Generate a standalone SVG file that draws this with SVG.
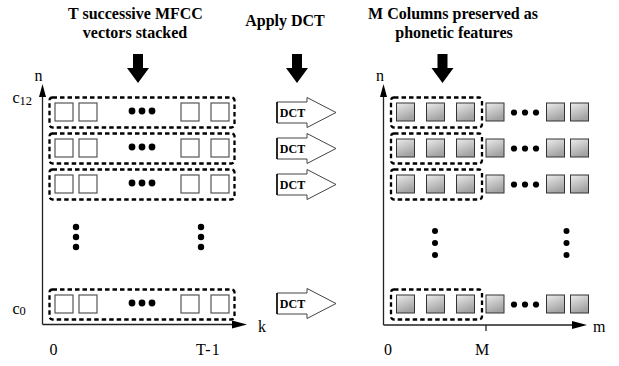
<svg xmlns="http://www.w3.org/2000/svg" width="619" height="366" viewBox="0 0 619 366">
<defs>
<linearGradient id="g" x1="0" y1="0" x2="0.4" y2="1">
<stop offset="0" stop-color="#ececec"/>
<stop offset="1" stop-color="#a2a2a2"/>
</linearGradient>
<style>
.t{font-family:"Liberation Serif","Times New Roman",serif;font-weight:bold;font-size:16px;fill:#000;text-anchor:middle}
.l{font-family:"Liberation Serif","Times New Roman",serif;font-size:16px;fill:#000}
.d{font-family:"Liberation Serif","Times New Roman",serif;font-weight:bold;font-size:12px;fill:#000;text-anchor:middle}
.box{fill:none;stroke:#000;stroke-width:2.3;stroke-dasharray:4.5 3}
.ws{fill:#fff;stroke:#555;stroke-width:1.2}
.gs{fill:url(#g);stroke:#333;stroke-width:1}
.dct{fill:#fff;stroke:#444;stroke-width:1}
.ax{stroke:#222;stroke-width:1.3;fill:none}
</style>
</defs>

<g id="titles">
<text class="t" x="135.5" y="19">T successive MFCC</text>
<text class="t" x="135" y="37.5">vectors stacked</text>
<text class="t" x="285" y="26">Apply DCT</text>
<text class="t" x="453" y="19">M Columns preserved as</text>
<text class="t" x="454" y="37.5">phonetic features</text>
</g>

<g id="connectors">
<polygon points="133,54 143,54 143,68 149,68 138,83 127,68 133,68" fill="#000"/>
<polygon points="292,54 302,54 302,68 308,68 297,83 286,68 292,68" fill="#000"/>
<polygon points="437.5,54 447.5,54 447.5,68 453.5,68 442.5,83 431.5,68 437.5,68" fill="#000"/>
</g>

<g id="axes-left">
<line class="ax" x1="42.5" y1="95" x2="42.5" y2="324.5"/>
<polygon points="42.5,84 46,97 39,97" fill="#000"/>
<line class="ax" x1="42.5" y1="324.5" x2="235" y2="324.5"/>
<polygon points="247,324.5 232,320.5 232,328.5" fill="#000"/>
<text class="l" x="34.5" y="81">n</text>
<text class="l" x="258" y="332">k</text>
<text class="l" x="12.5" y="103" font-size="18">c<tspan font-size="12.5" dy="2">12</tspan></text>
<text class="l" x="12.5" y="314" font-size="18">c<tspan font-size="12.5" dy="1">0</tspan></text>
<text class="l" x="49.5" y="355">0</text>
<text class="l" x="196" y="355" letter-spacing="1">T-1</text>
</g>

<g id="axes-right">
<line class="ax" x1="383.5" y1="95" x2="383.5" y2="325"/>
<polygon points="383.5,84 387,97 380,97" fill="#000"/>
<line class="ax" x1="383.5" y1="325" x2="575" y2="325"/>
<polygon points="587,325 572,321 572,329" fill="#000"/>
<line class="ax" x1="486" y1="325" x2="486" y2="331"/>
<text class="l" x="376" y="81">n</text>
<text class="l" x="593" y="332">m</text>
<text class="l" x="384" y="355">0</text>
<text class="l" x="475" y="355">M</text>
</g>

<g id="left-row-1">
<rect class="box" x="49.5" y="97.5" width="185" height="30" rx="3"/>
<rect class="ws" x="55" y="103" width="18" height="18"/>
<rect class="ws" x="79" y="103" width="18" height="18"/>
<circle cx="132" cy="111" r="3.4"/><circle cx="142" cy="111" r="3.4"/><circle cx="152" cy="111" r="3.4"/>
<rect class="ws" x="181" y="103" width="18" height="18"/>
<rect class="ws" x="211" y="103" width="18" height="18"/>
</g>
<g id="left-row-2">
<rect class="box" x="49.5" y="133.5" width="185" height="30" rx="3"/>
<rect class="ws" x="55" y="139" width="18" height="18"/>
<rect class="ws" x="79" y="139" width="18" height="18"/>
<circle cx="132" cy="147" r="3.4"/><circle cx="142" cy="147" r="3.4"/><circle cx="152" cy="147" r="3.4"/>
<rect class="ws" x="181" y="139" width="18" height="18"/>
<rect class="ws" x="211" y="139" width="18" height="18"/>
</g>
<g id="left-row-3">
<rect class="box" x="49.5" y="169.5" width="185" height="30" rx="3"/>
<rect class="ws" x="55" y="175" width="18" height="18"/>
<rect class="ws" x="79" y="175" width="18" height="18"/>
<circle cx="132" cy="183" r="3.4"/><circle cx="142" cy="183" r="3.4"/><circle cx="152" cy="183" r="3.4"/>
<rect class="ws" x="181" y="175" width="18" height="18"/>
<rect class="ws" x="211" y="175" width="18" height="18"/>
</g>
<g id="left-vdots">
<circle cx="76" cy="227" r="3.2"/><circle cx="76" cy="237" r="3.2"/><circle cx="76" cy="247" r="3.2"/>
<circle cx="201" cy="227" r="3.2"/><circle cx="201" cy="237" r="3.2"/><circle cx="201" cy="247" r="3.2"/>
</g>
<g id="left-row-4">
<rect class="box" x="49.5" y="289.5" width="185" height="30" rx="3"/>
<rect class="ws" x="55" y="295" width="18" height="18"/>
<rect class="ws" x="79" y="295" width="18" height="18"/>
<circle cx="132" cy="303" r="3.4"/><circle cx="142" cy="303" r="3.4"/><circle cx="152" cy="303" r="3.4"/>
<rect class="ws" x="181" y="295" width="18" height="18"/>
<rect class="ws" x="211" y="295" width="18" height="18"/>
</g>

<g id="dct-1">
<polygon class="dct" points="277,102 307,102 307,97.5 336,112.5 307,127.5 307,123 277,123"/>
<line x1="277" y1="102" x2="277" y2="123" stroke="#000" stroke-width="1.5"/>
<text class="d" x="292.5" y="116.5">DCT</text>
</g>
<g id="dct-2">
<polygon class="dct" points="277,138 307,138 307,133.5 336,148.5 307,163.5 307,159 277,159"/>
<line x1="277" y1="138" x2="277" y2="159" stroke="#000" stroke-width="1.5"/>
<text class="d" x="292.5" y="152.5">DCT</text>
</g>
<g id="dct-3">
<polygon class="dct" points="277,174 307,174 307,169.5 336,184.5 307,199.5 307,195 277,195"/>
<line x1="277" y1="174" x2="277" y2="195" stroke="#000" stroke-width="1.5"/>
<text class="d" x="292.5" y="188.5">DCT</text>
</g>
<g id="dct-4">
<polygon class="dct" points="277,293 307,293 307,288.5 336,303.5 307,318.5 307,314 277,314"/>
<line x1="277" y1="293" x2="277" y2="314" stroke="#000" stroke-width="1.5"/>
<text class="d" x="292.5" y="307.5">DCT</text>
</g>

<g id="right-row-1">
<rect class="box" x="391" y="97.5" width="91" height="30" rx="3"/>
<rect class="gs" x="396.5" y="103" width="18" height="18"/>
<rect class="gs" x="426.5" y="103" width="18" height="18"/>
<rect class="gs" x="456.5" y="103" width="18" height="18"/>
<rect class="gs" x="486" y="103" width="18" height="18"/>
<circle cx="514" cy="112.5" r="3.1"/><circle cx="525" cy="112.5" r="3.1"/><circle cx="536" cy="112.5" r="3.1"/>
<rect class="gs" x="546.5" y="103" width="18" height="18"/>
<rect class="gs" x="570.5" y="103" width="18" height="18"/>
</g>
<g id="right-row-2">
<rect class="box" x="391" y="133.5" width="91" height="30" rx="3"/>
<rect class="gs" x="396.5" y="139" width="18" height="18"/>
<rect class="gs" x="426.5" y="139" width="18" height="18"/>
<rect class="gs" x="456.5" y="139" width="18" height="18"/>
<rect class="gs" x="486" y="139" width="18" height="18"/>
<circle cx="514" cy="148.5" r="3.1"/><circle cx="525" cy="148.5" r="3.1"/><circle cx="536" cy="148.5" r="3.1"/>
<rect class="gs" x="546.5" y="139" width="18" height="18"/>
<rect class="gs" x="570.5" y="139" width="18" height="18"/>
</g>
<g id="right-row-3">
<rect class="box" x="391" y="169.5" width="91" height="30" rx="3"/>
<rect class="gs" x="396.5" y="175" width="18" height="18"/>
<rect class="gs" x="426.5" y="175" width="18" height="18"/>
<rect class="gs" x="456.5" y="175" width="18" height="18"/>
<rect class="gs" x="486" y="175" width="18" height="18"/>
<circle cx="514" cy="184.5" r="3.1"/><circle cx="525" cy="184.5" r="3.1"/><circle cx="536" cy="184.5" r="3.1"/>
<rect class="gs" x="546.5" y="175" width="18" height="18"/>
<rect class="gs" x="570.5" y="175" width="18" height="18"/>
</g>
<g id="right-vdots">
<circle cx="435" cy="231" r="3"/><circle cx="435" cy="243" r="3"/><circle cx="435" cy="255" r="3"/>
<circle cx="566.5" cy="231" r="3"/><circle cx="566.5" cy="243" r="3"/><circle cx="566.5" cy="255" r="3"/>
</g>
<g id="right-row-4">
<rect class="box" x="391" y="289.5" width="91" height="30" rx="3"/>
<rect class="gs" x="396.5" y="295" width="18" height="18"/>
<rect class="gs" x="426.5" y="295" width="18" height="18"/>
<rect class="gs" x="456.5" y="295" width="18" height="18"/>
<rect class="gs" x="486" y="295" width="18" height="18"/>
<circle cx="514" cy="304.5" r="3.1"/><circle cx="525" cy="304.5" r="3.1"/><circle cx="536" cy="304.5" r="3.1"/>
<rect class="gs" x="546.5" y="295" width="18" height="18"/>
<rect class="gs" x="570.5" y="295" width="18" height="18"/>
</g>
</svg>
